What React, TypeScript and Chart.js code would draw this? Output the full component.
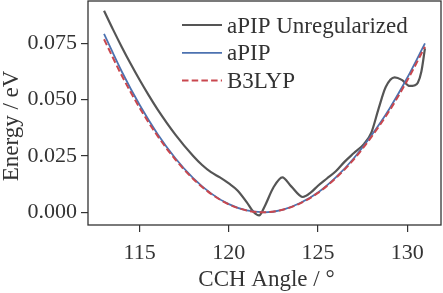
import React, { useEffect, useRef } from "react";
import { Chart, registerables } from "chart.js";

Chart.register(...registerables);

// ---- data ----
const xTicks = [115, 120, 125, 130];
const yTicks = [0, 0.025, 0.05, 0.075];

const smoothAngles = [113, 114, 115, 116, 117, 118, 119, 120, 121, 122, 123, 124, 125, 126, 127, 128, 129, 130, 131];
const apipEnergy = [0.0792, 0.0624, 0.0476, 0.0348, 0.024, 0.0152, 0.0084, 0.0036, 0.0008, 0.0, 0.0011, 0.0041, 0.0088, 0.0155, 0.0239, 0.0342, 0.0459, 0.0596, 0.075];
const b3lypEnergy = [0.0768, 0.0606, 0.0463, 0.0339, 0.0234, 0.0148, 0.0082, 0.0035, 0.0008, 0.0, 0.0011, 0.004, 0.0086, 0.0152, 0.0234, 0.0335, 0.045, 0.0584, 0.0735];

const unregAngles = [113, 113.5, 114, 114.5, 115, 115.5, 116, 117, 118, 118.5, 119, 119.5, 120, 120.5, 121, 121.4, 121.7, 122, 122.5, 123, 123.5, 124.15, 124.6, 125, 125.5, 126, 126.5, 127, 127.6, 128, 128.4, 128.8, 129.3, 129.7, 130.15, 130.4, 130.6, 130.8, 131];
const unregEnergy = [0.0895, 0.0812, 0.0733, 0.0658, 0.0587, 0.052, 0.0457, 0.0345, 0.025, 0.021, 0.0178, 0.0155, 0.0128, 0.0096, 0.0045, 0.0, -0.0014, 0.0025, 0.011, 0.0155, 0.0115, 0.0068, 0.0088, 0.0118, 0.015, 0.0182, 0.0225, 0.0262, 0.0305, 0.0355, 0.046, 0.0556, 0.0599, 0.0588, 0.0561, 0.0563, 0.0575, 0.0625, 0.0728];

const seriesLabels = ["aPIP Unregularized", "aPIP", "B3LYP"];
const seriesColors = ["#555555", "#4C72B0", "#C9474E"];
const xTitle = "CCH Angle / °";
const yTitle = "Energy / eV";

const FONT = '"Liberation Serif", "DejaVu Serif", serif';
const TICK_SIZE = 22;
const LABEL_SIZE = 23;
const INK = "#333333";

const decorPlugin = {
  id: "decor",
  afterDraw(chart: any) {
    const { ctx, chartArea: a } = chart;
    ctx.save();
    // frame (all four spines)
    ctx.strokeStyle = INK;
    ctx.lineWidth = 1.3;
    ctx.setLineDash([]);
    ctx.strokeRect(a.left, a.top, a.right - a.left, a.bottom - a.top);

    // axis titles
    ctx.fillStyle = INK;
    ctx.font = `${LABEL_SIZE}px ${FONT}`;
    ctx.textAlign = "center";
    ctx.textBaseline = "alphabetic";
    ctx.fillText(xTitle, (a.left + a.right) / 2 + 2, chart.height - 7);
    ctx.save();
    ctx.translate(18, (a.top + a.bottom) / 2 + 13);
    ctx.rotate(-Math.PI / 2);
    ctx.fillText(yTitle, 0, 0);
    ctx.restore();

    // legend (upper right, inside)
    const x0 = a.right - 259;
    const x1 = a.right - 219;
    const tx = a.right - 214;
    const rowY = [a.top + 24, a.top + 51.8, a.top + 79.5];
    chart.data.datasets.forEach((ds: any, i: number) => {
      const y = rowY[i];
      ctx.beginPath();
      ctx.strokeStyle = ds.borderColor;
      ctx.lineWidth = ds.borderWidth;
      ctx.setLineDash(ds.borderDash || []);
      ctx.moveTo(x0, y);
      ctx.lineTo(x1, y);
      ctx.stroke();
      ctx.setLineDash([]);
      ctx.fillStyle = INK;
      ctx.textAlign = "left";
      ctx.fillText(ds.label, tx, y + 7.5);
    });
    ctx.restore();
  },
};

export default function App() {
  const ref = useRef<HTMLCanvasElement>(null);
  useEffect(() => {
    document.body.style.margin = "0";
    const canvas = ref.current!;
    const chart = new Chart(canvas, {
      type: "line",
      data: {
        datasets: [
          {
            label: seriesLabels[0],
            data: unregAngles.map((x, i) => ({ x, y: unregEnergy[i] })),
            borderColor: seriesColors[0],
            borderWidth: 2.2,
            pointRadius: 0,
            cubicInterpolationMode: "monotone",
            fill: false,
            order: 3,
          },
          {
            label: seriesLabels[1],
            data: smoothAngles.map((x, i) => ({ x, y: apipEnergy[i] })),
            borderColor: seriesColors[1],
            borderWidth: 1.8,
            pointRadius: 0,
            cubicInterpolationMode: "monotone",
            fill: false,
            order: 2,
          },
          {
            label: seriesLabels[2],
            data: smoothAngles.map((x, i) => ({ x, y: b3lypEnergy[i] })),
            borderColor: seriesColors[2],
            borderWidth: 2,
            borderDash: [6.5, 3.2],
            pointRadius: 0,
            cubicInterpolationMode: "monotone",
            fill: false,
            order: 1,
          },
        ],
      },
      options: {
        responsive: false,
        animation: false,
        devicePixelRatio: 1,
        layout: { padding: { top: 1, right: 2, left: 0, bottom: 0 } },
        plugins: { legend: { display: false }, tooltip: { enabled: false } },
        scales: {
          x: {
            type: "linear",
            min: 112.1,
            max: 131.9,
            grid: { drawOnChartArea: false, drawTicks: true, tickLength: 7, color: INK, lineWidth: 1.2 },
            border: { display: false },
            ticks: {
              font: { family: FONT, size: TICK_SIZE },
              color: INK,
              padding: 8,
              maxRotation: 0,
              autoSkip: false,
            },
            afterBuildTicks: (s: any) => {
              s.ticks = xTicks.map((v) => ({ value: v }));
            },
            afterFit: (s: any) => {
              s.height = 68;
              s.paddingLeft = 0;
              s.paddingRight = 0;
            },
          },
          y: {
            type: "linear",
            min: -0.00564,
            max: 0.0938,
            grid: { drawOnChartArea: false, drawTicks: true, tickLength: 7, color: INK, lineWidth: 1.2 },
            border: { display: false },
            ticks: {
              font: { family: FONT, size: TICK_SIZE },
              color: INK,
              padding: 4,
              autoSkip: false,
              callback: (v: any) => Number(v).toFixed(3),
            },
            afterBuildTicks: (s: any) => {
              s.ticks = yTicks.map((v) => ({ value: v }));
            },
            afterFit: (s: any) => {
              s.width = 88;
              s.paddingTop = 0;
              s.paddingBottom = 0;
            },
          },
        },
      },
      plugins: [decorPlugin],
    } as any);
    return () => chart.destroy();
  }, []);
  return (
    <div style={{ width: 443, height: 293 }}>
      <canvas ref={ref} width={443} height={293} style={{ display: "block" }} />
    </div>
  );
}
